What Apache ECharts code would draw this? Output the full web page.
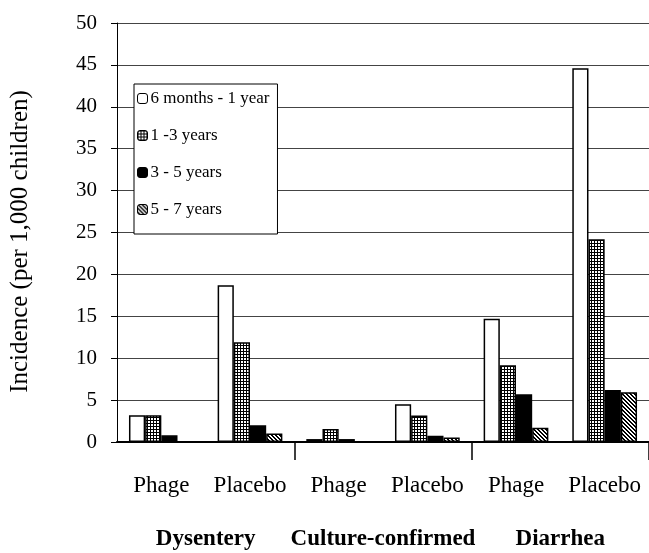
<!DOCTYPE html>
<html>
<head>
<meta charset="utf-8">
<script src="https://cdn.jsdelivr.net/npm/echarts@6/dist/echarts.min.js"></script>
<style>
html,body{margin:0;padding:0;background:#fff;}
#chart{width:649px;height:553px;}
</style>
</head>
<body>
<div id="chart"></div>
<script>
// ---- data ----
const categories = ['Phage', 'Placebo', 'Phage', 'Placebo', 'Phage', 'Placebo'];
const groups = ['Dysentery', 'Culture-confirmed', 'Diarrhea'];
const seriesNames = ['6 months - 1 year', '1 -3 years', '3 - 5 years', '5 - 7 years'];
const age6m1y = [3.2, 18.7, 0.35, 4.5, 14.7, 44.6];
const age1to3 = [3.2, 11.9, 1.55, 3.15, 9.15, 24.2];
const age3to5 = [0.8, 2.0, 0.35, 0.75, 5.7, 6.2];
const age5to7 = [0, 1.0, 0, 0.55, 1.7, 5.95];
const yTicks = {min: 0, max: 50, interval: 5};

// ---- fill patterns ----
function gridPattern() {
  const c = document.createElement('canvas');
  c.width = 3; c.height = 3;
  const g = c.getContext('2d');
  g.fillStyle = '#fff'; g.fillRect(0, 0, 3, 3);
  g.fillStyle = '#000';
  g.fillRect(0, 0, 3, 1);
  g.fillRect(0, 0, 1, 3);
  return {image: c, repeat: 'repeat'};
}
function hatchPattern() {
  const c = document.createElement('canvas');
  c.width = 4; c.height = 4;
  const g = c.getContext('2d');
  g.fillStyle = '#fff'; g.fillRect(0, 0, 4, 4);
  g.fillStyle = '#000';
  for (let i = 0; i < 4; i++) {
    g.fillRect(i, i, 1, 1);
    g.fillRect((i + 1) % 4, i, 1, 1);
  }
  return {image: c, repeat: 'repeat'};
}

const fills = ['#ffffff', gridPattern(), '#000000', hatchPattern()];
const values = [age6m1y, age1to3, age3to5, age5to7];
const font = 'Liberation Serif';

const chart = echarts.init(document.getElementById('chart'), null, {renderer: 'canvas'});
chart.setOption({
  animation: false,
  backgroundColor: '#fff',
  textStyle: {fontFamily: font, color: '#000'},
  grid: {left: 117, right: -4, top: 23, bottom: 111, containLabel: false},
  legend: {
    orient: 'vertical',
    left: 134, top: 84,
    padding: [6, 8, 16, 3],
    itemGap: 20,
    itemWidth: 10, itemHeight: 10,
    itemStyle: {borderColor: '#000', borderWidth: 1},
    backgroundColor: '#fff',
    borderColor: '#000', borderWidth: 1,
    textStyle: {fontFamily: font, fontSize: 17, color: '#000', padding: [0, 0, 0, -2]},
    data: seriesNames
  },
  xAxis: [{
    type: 'category',
    data: categories,
    axisLine: {show: true, lineStyle: {color: '#000', width: 2}},
    axisTick: {show: false},
    axisLabel: {fontFamily: font, fontSize: 23, color: '#000', margin: 32, interval: 0}
  }, {
    type: 'category',
    data: groups,
    position: 'bottom',
    axisLine: {show: false},
    axisTick: {show: true, length: 18, lineStyle: {color: '#000', width: 1.5},
      interval: function (index) { return index > 0; }},
    axisLabel: {fontFamily: font, fontSize: 23, fontWeight: 'bold', color: '#000', margin: 86, interval: 0}
  }],
  yAxis: {
    type: 'value',
    min: yTicks.min, max: yTicks.max, interval: yTicks.interval,
    name: 'Incidence (per 1,000 children)',
    nameLocation: 'middle',
    nameGap: 84,
    nameTextStyle: {fontFamily: font, fontSize: 25, color: '#000', padding: [0, 18, 0, 0]},
    axisLine: {show: true, lineStyle: {color: '#000', width: 1}},
    axisTick: {show: true, length: 6, lineStyle: {color: '#000'}},
    axisLabel: {fontFamily: font, fontSize: 21, color: '#000', margin: 20},
    splitLine: {show: true, lineStyle: {color: '#444', width: 1}}
  },
  series: seriesNames.map((name, i) => ({
    name: name,
    type: 'bar',
    xAxisIndex: 0,
    data: values[i],
    barGap: '0%',
    barCategoryGap: '27%',
    itemStyle: {color: fills[i], borderColor: '#000', borderWidth: 1.5}
  }))
});
</script>
</body>
</html>
